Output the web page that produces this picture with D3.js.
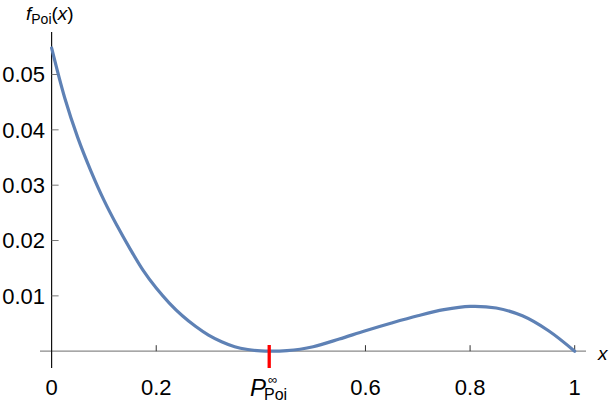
<!DOCTYPE html>
<html>
<head>
<meta charset="utf-8">
<script src="https://cdn.jsdelivr.net/npm/d3@7"></script>
<style>
  html, body { margin: 0; padding: 0; background: #fff; }
  svg text { font-family: "Liberation Sans", Arial, sans-serif; }
</style>
</head>
<body>
<svg id="chart" width="612" height="404"></svg>
<script>
// Data
const xValues = [0, 0.025, 0.05, 0.075, 0.1, 0.125, 0.15, 0.175, 0.2, 0.225, 0.25, 0.275, 0.3, 0.325, 0.35, 0.375, 0.4, 0.42, 0.45, 0.475, 0.5, 0.55, 0.6, 0.65, 0.7, 0.75, 0.8, 0.85, 0.9, 0.95, 1.0];
const yValues = [0.0548, 0.0458, 0.0386, 0.0326, 0.0273, 0.0227, 0.0185, 0.0146, 0.0114, 0.0087, 0.0064, 0.0045, 0.0029, 0.0017, 0.0008, 0.0003, 0.00005, 0.0, 0.0001, 0.00035, 0.0008, 0.0022, 0.0037, 0.0051, 0.0064, 0.0075, 0.0081, 0.0078, 0.0064, 0.0037, 0.0];
const xTicks = [0, 0.2, 0.6, 0.8, 1];
const xTickLabels = ["0", "0.2", "0.6", "0.8", "1"];
const yTicks = [0.01, 0.02, 0.03, 0.04, 0.05];
const yTickLabels = ["0.01", "0.02", "0.03", "0.04", "0.05"];
const markerX = 0.416;

const svg = d3.select("#chart");
const x = d3.scaleLinear().domain([0, 1]).range([51.6, 574.7]);
const y = d3.scaleLinear().domain([0, 0.05]).range([351.2, 74.5]);

const x0 = x(0), y0 = y(0);

// x axis line (gray)
svg.append("line").attr("x1", 40).attr("x2", 586).attr("y1", y0).attr("y2", y0)
  .attr("stroke", "#8a8a8a").attr("stroke-width", 1.2);
// y axis line (black)
svg.append("line").attr("x1", x0).attr("x2", x0).attr("y1", 32).attr("y2", 368)
  .attr("stroke", "#111").attr("stroke-width", 1.2);

// x ticks
xTicks.forEach((t, i) => {
  if (t !== 0) {
    svg.append("line").attr("x1", x(t)).attr("x2", x(t)).attr("y1", y0).attr("y2", y0 - 6)
      .attr("stroke", "#333").attr("stroke-width", 1);
  }
  svg.append("text").attr("x", x(t)).attr("y", 395).attr("text-anchor", "middle")
    .attr("font-size", 22).attr("fill", "#000").text(xTickLabels[i]);
});
// y ticks
yTicks.forEach((t, i) => {
  svg.append("line").attr("x1", x0).attr("x2", x0 + 7).attr("y1", y(t)).attr("y2", y(t))
    .attr("stroke", "#777").attr("stroke-width", 1);
  svg.append("text").attr("x", 45).attr("y", y(t)).attr("dy", "0.36em").attr("text-anchor", "end")
    .attr("font-size", 22).attr("fill", "#000").text(yTickLabels[i]);
});

// curve
const line = d3.line().x((d, i) => x(xValues[i])).y((d, i) => y(yValues[i])).curve(d3.curveCatmullRom.alpha(0.5));
svg.append("path").datum(yValues).attr("d", line)
  .attr("fill", "none").attr("stroke", "#5E81B5").attr("stroke-width", 3.2)
  .attr("stroke-linejoin", "round").attr("stroke-linecap", "round");

// red marker
svg.append("line").attr("x1", x(markerX)).attr("x2", x(markerX)).attr("y1", 345).attr("y2", 368)
  .attr("stroke", "#f00").attr("stroke-width", 3.3);

// marker label P_Poi^∞
const pl = svg.append("g");
pl.append("text").attr("x", 250).attr("y", 396).attr("font-size", 24).attr("font-style", "italic").text("P");
pl.append("text").attr("x", 268).attr("y", 384).attr("font-size", 13).text("∞");
pl.append("text").attr("x", 264).attr("y", 400).attr("font-size", 16).text("Poi");

// y axis label f_Poi(x)
const yl = svg.append("text").attr("x", 26).attr("y", 20).attr("font-size", 19);
yl.append("tspan").attr("font-style", "italic").text("f");
yl.append("tspan").attr("font-size", 14).attr("dy", 4).text("Poi");
yl.append("tspan").attr("dy", -4).text("(");
yl.append("tspan").attr("font-style", "italic").text("x");
yl.append("tspan").text(")");

// x axis label
svg.append("text").attr("x", 598).attr("y", 360).attr("font-size", 19).attr("font-style", "italic").text("x");
</script>
</body>
</html>
